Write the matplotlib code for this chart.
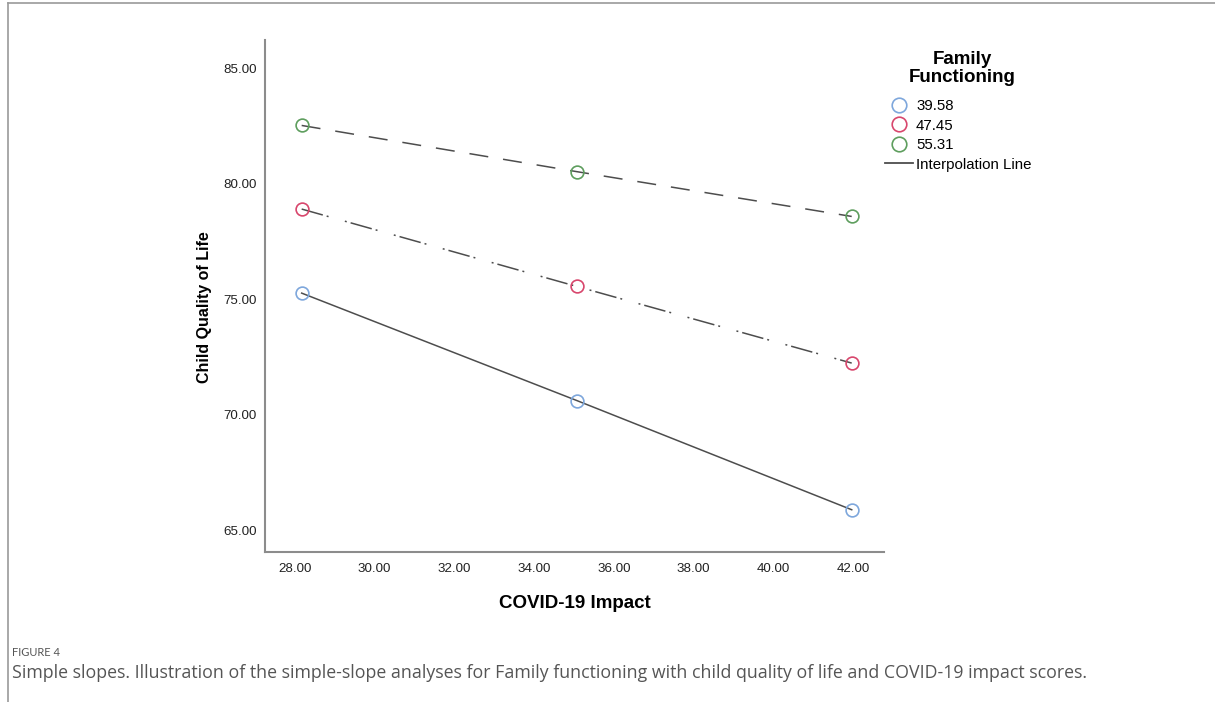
import matplotlib
matplotlib.use("Agg")
import matplotlib.pyplot as plt
from matplotlib.lines import Line2D

# data
covid_impact = [28.17, 35.07, 41.97]
ff_levels = ["39.58", "47.45", "55.31"]
qol_low = [75.26, 70.61, 65.88]
qol_mid = [78.90, 75.55, 72.23]
qol_high = [82.52, 80.52, 78.58]
x_ticks = [28, 30, 32, 34, 36, 38, 40, 42]
y_ticks = [65, 70, 75, 80, 85]

plt.rcParams["font.family"] = ["Liberation Sans", "DejaVu Sans"]
plt.rcParams["lines.scale_dashes"] = False

W, H = 1215, 702
fig = plt.figure(figsize=(W / 100, H / 100), dpi=100)
ax = fig.add_axes([265 / W, 1 - 552 / H, 619 / W, 512 / H])

line_col = "#4d4d4d"
marker_cols = ["#7ea7dc", "#d8476d", "#5e9e5e"]
# dash patterns in points (1 px = 0.72 pt)
styles = ["-",
          (0, (15.8, 2.9, 1.4, 12.2, 1.4, 2.9)),
          (0, (13.7, 10.8))]
series = [qol_low, qol_mid, qol_high]

for ys, col, ls in zip(series, marker_cols, styles):
    ax.plot(covid_impact, ys, color=line_col, lw=1.1, ls=ls, zorder=2)
    ax.plot(covid_impact, ys, ls="none", marker="o", ms=9.2, mfc="none",
            mec=col, mew=1.2, zorder=3)

ax.set_xlim(27.25, 42.78)
ax.set_ylim(64.05, 86.22)
ax.set_xticks(x_ticks)
ax.set_yticks(y_ticks)
ax.set_xticklabels([f"{v:.2f}" for v in x_ticks])
ax.set_yticklabels([f"{v:.2f}" for v in y_ticks])
ax.tick_params(axis="both", length=0, labelsize=9.6, colors="#222222")
ax.tick_params(axis="x", pad=8)
ax.tick_params(axis="y", pad=6)

for s in ["top", "right"]:
    ax.spines[s].set_visible(False)
for s in ["left", "bottom"]:
    ax.spines[s].set_color("#8c8c8c")
    ax.spines[s].set_linewidth(1.5)

ax.set_xlabel("COVID-19 Impact", fontsize=13.5, fontweight="bold")
ax.xaxis.label.set_verticalalignment("center")
ax.xaxis.set_label_coords(0.5, -51 / 512)
ax.set_ylabel("Child Quality of Life", fontsize=11.5, fontweight="bold")
ax.yaxis.label.set_verticalalignment("center")
ax.yaxis.set_label_coords(-60 / 619, 245 / 512)

# legend title, drawn as text so the gap to the entries can match
fig.text(962 / W, 1 - 59 / H, "Family", ha="center", va="center",
         fontsize=13.5, fontweight="bold")
fig.text(962 / W, 1 - 78 / H, "Functioning", ha="center", va="center",
         fontsize=13.5, fontweight="bold")

handles = [Line2D([], [], ls="none", marker="o", ms=10.5, mfc="none", mec=c, mew=1.2)
           for c in marker_cols]
handles.append(Line2D([], [], color=line_col, lw=1.3))
labels = ff_levels + ["Interpolation Line"]
leg = fig.legend(handles, labels, loc="upper left",
                 bbox_to_anchor=(885 / W, 1 - 99 / H), frameon=False,
                 fontsize=10.8, handlelength=1.87, handletextpad=0.2,
                 labelspacing=0.37, borderpad=0, borderaxespad=0)

# caption
fig.text(12 / W, 1 - 652 / H, "FIGURE 4", fontsize=8, color="#555555",
         va="center", ha="left", family=["Lato", "DejaVu Sans"])
fig.text(12 / W, 1 - 673 / H,
         "Simple slopes. Illustration of the simple-slope analyses for Family "
         "functioning with child quality of life and COVID-19 impact scores.",
         fontsize=12.8, color="#555555", va="center", ha="left",
         family=["Open Sans", "DejaVu Sans"])

# page border
fig.add_artist(Line2D([8 / W, 1], [1 - 3 / H, 1 - 3 / H], color="#9a9a9a", lw=1.2))
fig.add_artist(Line2D([8 / W, 8 / W], [0, 1 - 3 / H], color="#9a9a9a", lw=1.2))

fig.savefig("out.png", dpi=100)
